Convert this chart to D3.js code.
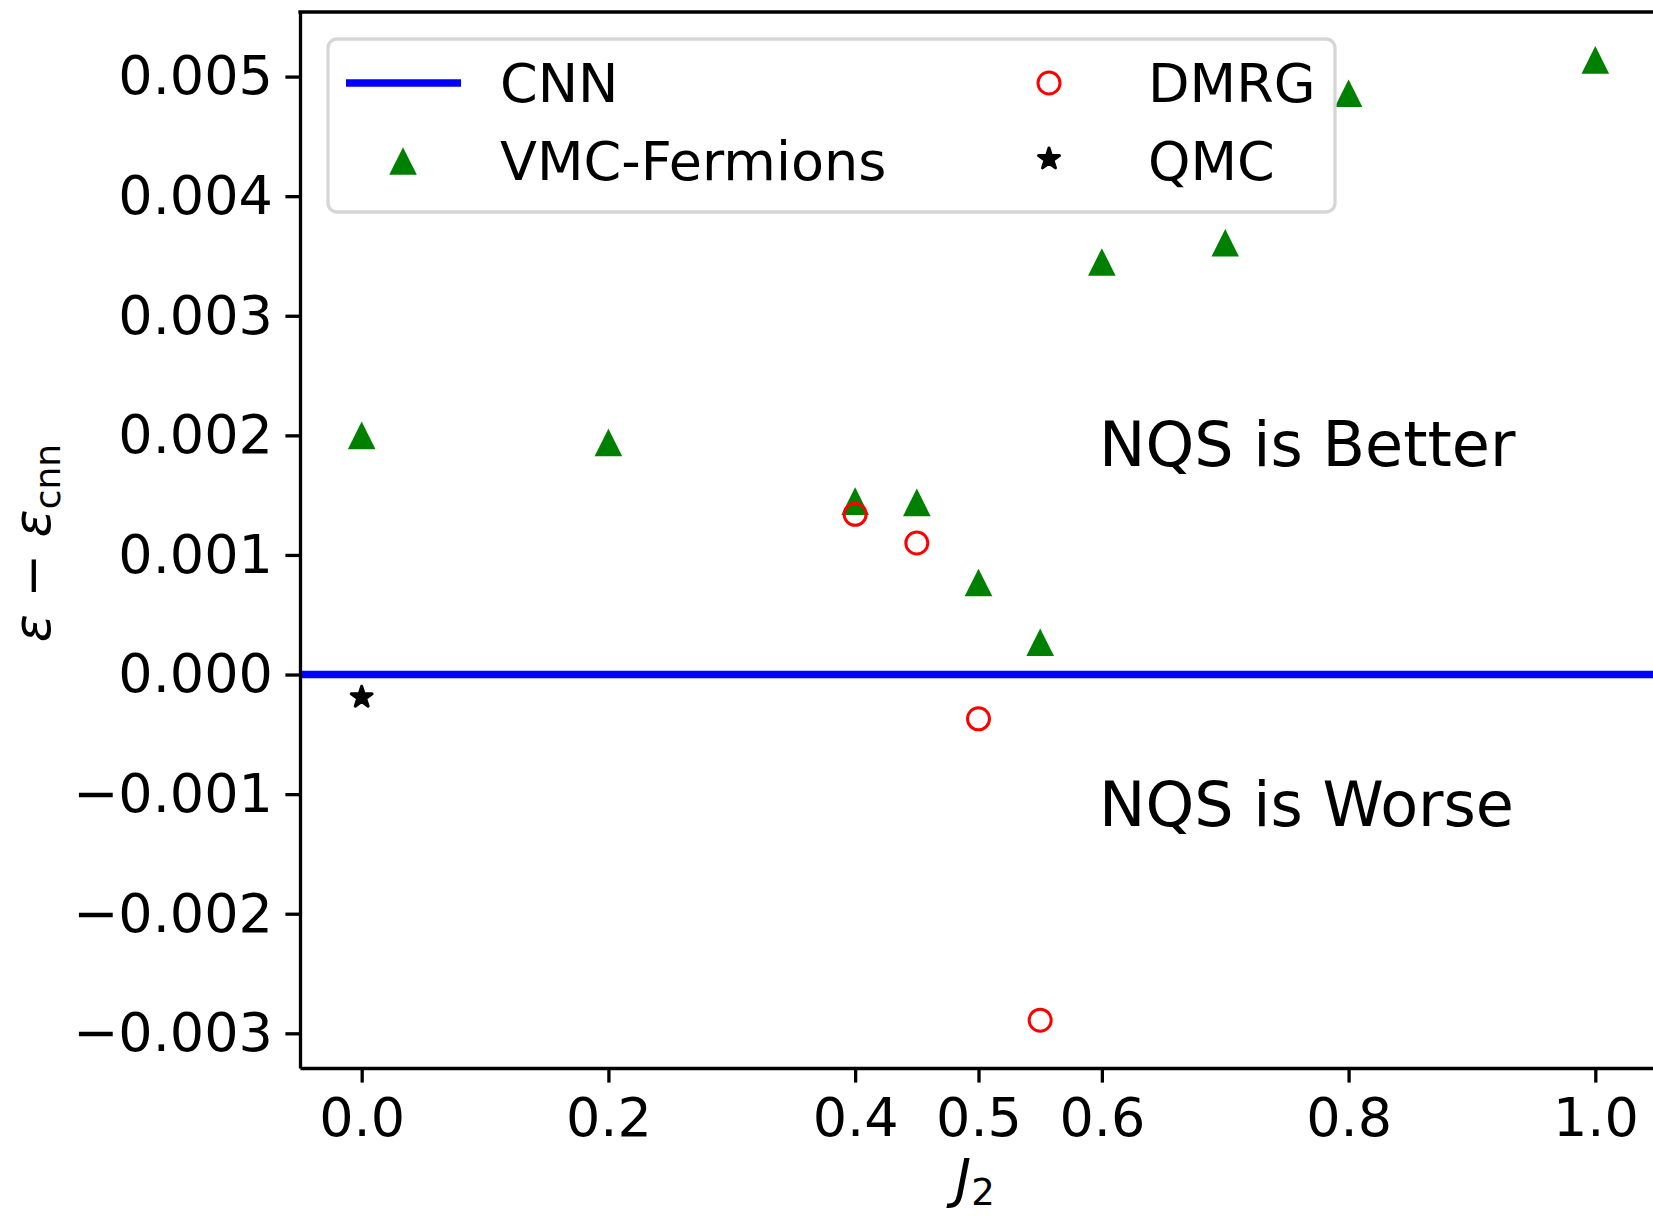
<!DOCTYPE html>
<html>
<head>
<meta charset="utf-8">
<script src="https://cdn.jsdelivr.net/npm/d3@7"></script>
<style>
  html, body { margin: 0; padding: 0; background: #fff; }
  svg { display: block; font-family: "DejaVu Sans", sans-serif; }
</style>
</head>
<body>
<div id="chart"></div>
<script>
// data
const vmcJ2 = [0.0, 0.2, 0.4, 0.45, 0.5, 0.55, 0.6, 0.7, 0.8, 1.0];
const vmcDiff = [0.00200, 0.00194, 0.00145, 0.00144, 0.00077, 0.00027, 0.00345, 0.00361, 0.00486, 0.00514];
const dmrgJ2 = [0.4, 0.45, 0.5, 0.55];
const dmrgDiff = [0.00134, 0.00110, -0.00037, -0.00289];
const qmcJ2 = [0.0];
const qmcDiff = [-0.00019];
const cnnDiff = 0;
const xTicks = [0.0, 0.2, 0.4, 0.5, 0.6, 0.8, 1.0];
const yTicks = [-0.003, -0.002, -0.001, 0.000, 0.001, 0.002, 0.003, 0.004, 0.005];
const legendItems = [
  { label: "CNN", kind: "line" },
  { label: "DMRG", kind: "circle" },
  { label: "VMC-Fermions", kind: "triangle" },
  { label: "QMC", kind: "star" }
];

const WIDTH = 1653;
const HEIGHT = 1216;
const LEFT = 300, TOP = 12, RIGHT = 1657, BOTTOM = 1068;
const FONT = 54;
const LW = 3.3;

const svg = d3.select("#chart")
  .append("svg")
    .attr("width", WIDTH)
    .attr("height", HEIGHT);

const x = d3.scaleLinear().domain([-0.05, 1.05]).range([LEFT, RIGHT]);
const y = d3.scaleLinear().domain([-0.00329, 0.00554]).range([BOTTOM, TOP]);

// marker paths (matplotlib style)
function trianglePath(s) {
  return `M0,${-s}L${-s},${s}L${s},${s}Z`;
}
function starPath(R) {
  const r = R * 0.381966;
  const pts = [];
  for (let i = 0; i < 10; i++) {
    const a = Math.PI / 2 + i * Math.PI / 5;
    const rad = i % 2 === 0 ? R : r;
    pts.push([rad * Math.cos(a), -rad * Math.sin(a)]);
  }
  return "M" + pts.map(p => p.join(",")).join("L") + "Z";
}

svg.append("clipPath").attr("id", "clip")
  .append("rect")
    .attr("x", LEFT).attr("y", TOP)
    .attr("width", RIGHT - LEFT).attr("height", BOTTOM - TOP);

const plot = svg.append("g").attr("clip-path", "url(#clip)");

// CNN reference line
plot.append("line")
  .attr("x1", LEFT).attr("x2", RIGHT)
  .attr("y1", y(cnnDiff)).attr("y2", y(cnnDiff))
  .attr("stroke", "#0000ff")
  .attr("stroke-width", 7.5);

// VMC-Fermions
plot.selectAll("path.vmc")
  .data(vmcJ2.map((d, i) => [d, vmcDiff[i]]))
  .enter()
  .append("path")
    .attr("class", "vmc")
    .attr("d", trianglePath(13.8))
    .attr("transform", d => `translate(${x(d[0])},${y(d[1])})`)
    .attr("fill", "#008000");

// DMRG
plot.selectAll("circle.dmrg")
  .data(dmrgJ2.map((d, i) => [d, dmrgDiff[i]]))
  .enter()
  .append("circle")
    .attr("class", "dmrg")
    .attr("cx", d => x(d[0]))
    .attr("cy", d => y(d[1]))
    .attr("r", 11)
    .attr("fill", "none")
    .attr("stroke", "#ff0000")
    .attr("stroke-width", 3);

// QMC
plot.selectAll("path.qmc")
  .data(qmcJ2.map((d, i) => [d, qmcDiff[i]]))
  .enter()
  .append("path")
    .attr("class", "qmc")
    .attr("d", starPath(11))
    .attr("transform", d => `translate(${x(d[0])},${y(d[1])})`)
    .attr("fill", "#000")
    .attr("stroke", "#000")
    .attr("stroke-width", 3)
    .attr("stroke-linejoin", "round");

// annotations
plot.append("text")
  .attr("x", 1099).attr("y", 466)
  .attr("font-size", 62)
  .text("NQS is Better");
plot.append("text")
  .attr("x", 1099).attr("y", 826)
  .attr("font-size", 62)
  .text("NQS is Worse");

// axes
const xAxis = d3.axisBottom(x)
  .tickValues(xTicks)
  .tickFormat(d3.format(".1f"))
  .tickSize(14.6)
  .tickSizeOuter(0)
  .tickPadding(14.6);

const yAxis = d3.axisLeft(y)
  .tickValues(yTicks)
  .tickFormat(d3.format(".3f"))
  .tickSize(14.6)
  .tickSizeOuter(0)
  .tickPadding(12.5);

const gx = svg.append("g")
  .attr("transform", `translate(0,${BOTTOM})`)
  .call(xAxis);
const gy = svg.append("g")
  .attr("transform", `translate(${LEFT},0)`)
  .call(yAxis);

[gx, gy].forEach(g => {
  g.selectAll("text")
    .attr("font-size", FONT)
    .attr("font-family", "DejaVu Sans")
    .attr("fill", "#000");
  g.selectAll("line").attr("stroke", "#000").attr("stroke-width", LW);
  g.select(".domain").attr("stroke", "#000").attr("stroke-width", LW);
});

// top spine
svg.append("line")
  .attr("x1", LEFT - LW / 2).attr("x2", RIGHT)
  .attr("y1", TOP).attr("y2", TOP)
  .attr("stroke", "#000")
  .attr("stroke-width", LW);

// axis labels
const xl = svg.append("text")
  .attr("x", 975).attr("y", 1197)
  .attr("text-anchor", "middle")
  .attr("font-size", FONT);
xl.append("tspan").attr("font-style", "italic").text("J");
xl.append("tspan").attr("font-size", 37).attr("dy", 8).text("2");

const yl = svg.append("text")
  .attr("transform", "translate(50,543) rotate(-90)")
  .attr("text-anchor", "middle")
  .attr("font-size", 52);
yl.append("tspan").attr("font-style", "italic").text("ε");
yl.append("tspan").text(" − ");
yl.append("tspan").attr("font-style", "italic").text("ε");
yl.append("tspan").attr("font-size", 36).attr("dy", 10).text("cnn");

// legend
const legend = svg.append("g");
legend.append("rect")
  .attr("x", 328).attr("y", 39)
  .attr("width", 1335 - 328).attr("height", 212 - 39)
  .attr("rx", 9)
  .attr("fill", "#fff").attr("fill-opacity", 0.8)
  .attr("stroke", "#d6d6d6")
  .attr("stroke-width", 3.3);

const colX = [403, 1049];
const textX = [500, 1148];
const rowY = [83, 161];

legendItems.forEach((item, i) => {
  const col = i % 2, row = Math.floor(i / 2);
  const cx = colX[col], cy = rowY[row];
  const g = legend.append("g");
  if (item.kind === "line") {
    g.append("line")
      .attr("x1", cx - 57).attr("x2", cx + 58)
      .attr("y1", cy).attr("y2", cy)
      .attr("stroke", "#0000ff").attr("stroke-width", 7.5);
  } else if (item.kind === "triangle") {
    g.append("path").attr("d", trianglePath(13.8))
      .attr("transform", `translate(${cx},${cy})`)
      .attr("fill", "#008000");
  } else if (item.kind === "circle") {
    g.append("circle").attr("cx", cx).attr("cy", cy).attr("r", 11)
      .attr("fill", "none").attr("stroke", "#ff0000").attr("stroke-width", 3);
  } else {
    g.append("path").attr("d", starPath(11))
      .attr("transform", `translate(${cx},${cy - 2})`)
      .attr("fill", "#000")
      .attr("stroke", "#000")
      .attr("stroke-width", 3)
      .attr("stroke-linejoin", "round");
  }
  g.append("text")
    .attr("x", textX[col]).attr("y", cy + 19)
    .attr("font-size", FONT)
    .text(item.label);
});
</script>
</body>
</html>
